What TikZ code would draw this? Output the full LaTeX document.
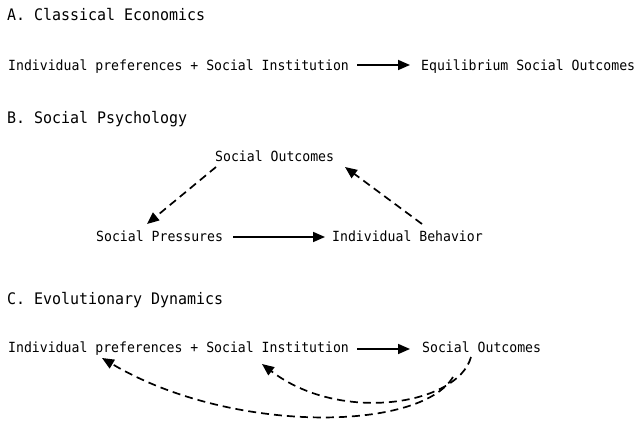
\documentclass[tikz,border=0pt]{standalone}
\usepackage{fontspec}
\setmainfont[FakeStretch=0.94]{DejaVu Sans Mono}
\usetikzlibrary{arrows.meta}
\begin{document}
\begin{tikzpicture}[x=1pt,y=1pt,
    txt/.style={inner sep=0pt,anchor=base west,font=\fontsize{14}{16}\selectfont},
    heading/.style={txt,font=\fontsize{15.9}{18}\selectfont},
    flow/.style={line width=1.7pt,-{Triangle[length=12pt,width=10pt]}},
    feedback/.style={flow,dash pattern=on 8pt off 5pt}]
  \useasboundingbox (0,0) rectangle (637,422);

  % A. Classical economics
  \node[heading] (tA) at (7,401) {A. Classical Economics};
  \node[txt] (aL) at (8,351) {Individual preferences + Social Institution};
  \node[txt] (aR) at (421,351) {Equilibrium Social Outcomes};
  \draw[flow] ([shift={(8pt,6pt)}]aL.base east) -- ([shift={(-11pt,6pt)}]aR.base west);

  % B. Social psychology
  \node[heading] (tB) at (7,298) {B. Social Psychology};
  \node[txt] (bso) at (215,260) {Social Outcomes};
  \node[txt] (bsp) at (96,180) {Social Pressures};
  \node[txt] (bib) at (332,180) {Individual Behavior};
  \draw[flow] ([shift={(10pt,5pt)}]bsp.base east) -- ([shift={(-7pt,5pt)}]bib.base west);
  \draw[feedback] ([shift={(1pt,-5pt)}]bso.base west) -- ([shift={(51pt,18pt)}]bsp.base west);
  \draw[feedback] ([shift={(90pt,18pt)}]bib.base west) -- ([shift={(130pt,-5pt)}]bso.base west);

  % C. Evolutionary dynamics
  \node[heading] (tC) at (7,117) {C. Evolutionary Dynamics};
  \node[txt] (cL) at (8,69) {Individual preferences + Social Institution};
  \node[txt] (cR) at (422,69) {Social Outcomes};
  \draw[flow] ([shift={(8pt,4pt)}]cL.base east) -- ([shift={(-12pt,4pt)}]cR.base west);
  % feedback to the institution (inner loop)
  \draw[feedback] ([shift={(49pt,-4pt)}]cR.base west)
    .. controls (458,17) and (340,-2) .. ([shift={(254pt,-11pt)}]cL.base west);
  % feedback to the preferences (outer loop)
  \draw[feedback] ([shift={(31pt,-24pt)}]cR.base west)
    .. controls (420,-10) and (230,-12) .. ([shift={(94pt,-5pt)}]cL.base west);
\end{tikzpicture}
\end{document}
